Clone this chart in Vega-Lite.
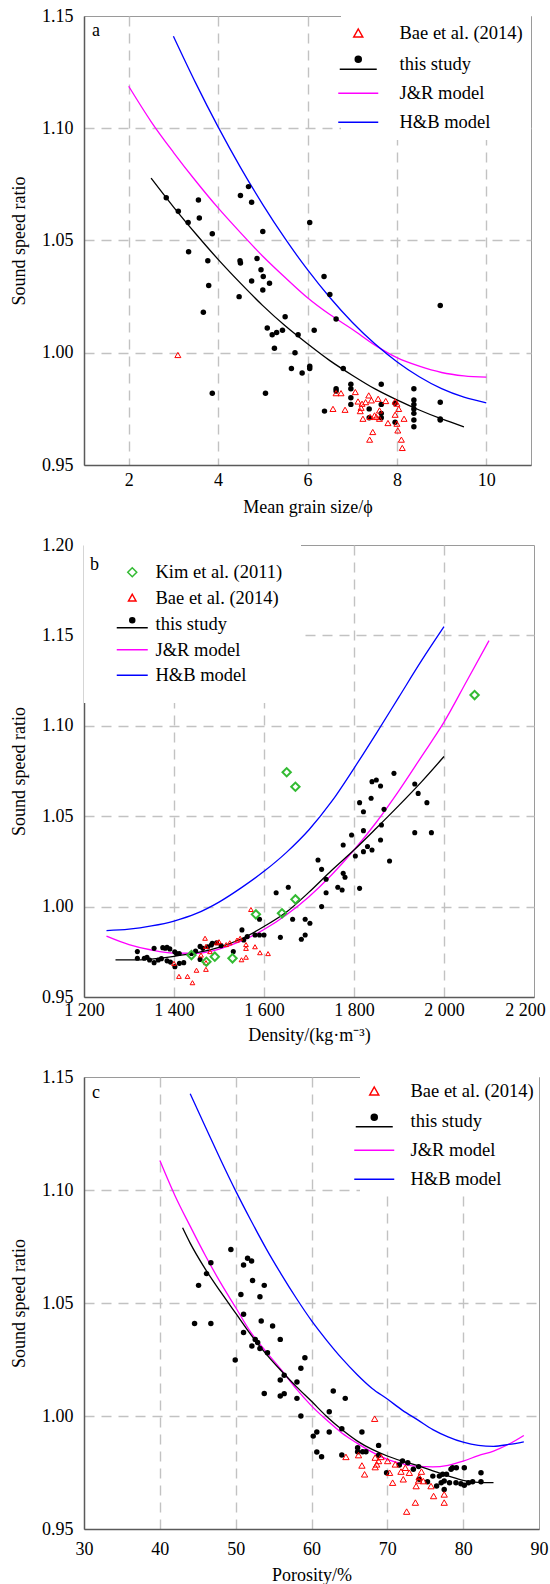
{
"$schema": "https://vega.github.io/schema/vega-lite/v6.json",
"padding": {"left": 10, "top": 6, "right": 0, "bottom": 0},
"bounds": "flush",
"spacing": 80,
"config": {
  "font": "Liberation Serif",
  "view": {"stroke": "#9a9a9a", "strokeWidth": 1},
  "axis": {"labelFont": "Liberation Serif", "labelFontSize": 18, "labelColor": "#000", "titleFont": "Liberation Serif", "titleFontSize": 18, "titleFontWeight": "normal", "titleColor": "#000", "ticks": false, "domainColor": "#5a5a5a", "domainWidth": 1.5, "gridColor": "#c2c2c2", "gridDash": [10, 7], "gridWidth": 1.4, "labelFlush": false, "labelOverlap": false},
  "axisY": {"labelPadding": 11, "titlePadding": 13, "format": ".2f"},
  "legend": {"labelFont": "Liberation Serif", "labelFontSize": 18.5, "labelColor": "#000", "fillColor": "white", "symbolSize": 100, "symbolStrokeWidth": 1.5, "symbolOpacity": 1, "labelLimit": 300},
  "title": {"font": "Liberation Serif", "fontSize": 18, "fontWeight": "normal", "color": "#000", "anchor": "start", "frame": "group"}
},
"resolve": {"scale": {"shape": "independent", "stroke": "independent", "fill": "independent"}, "legend": {"shape": "independent", "stroke": "independent", "fill": "independent"}},
"datasets": {
  "aS": [{"s":"Bae et al. (2014)"},{"s":"this study"},{"s":"J&R model"},{"s":"H&B model"}],
  "bS": [{"s":"Kim et al. (2011)"},{"s":"Bae et al. (2014)"},{"s":"this study"},{"s":"J&R model"},{"s":"H&B model"}],
  "aD": [{"x":2.84,"y":1.069},{"x":3.11,"y":1.063},{"x":3.33,"y":1.058},{"x":3.56,"y":1.068},{"x":3.58,"y":1.06},{"x":3.87,"y":1.053},{"x":3.34,"y":1.045},{"x":3.77,"y":1.041},{"x":3.79,"y":1.03},{"x":3.67,"y":1.018},{"x":3.87,"y":0.982},{"x":4.5,"y":1.07},{"x":4.68,"y":1.074},{"x":4.75,"y":1.067},{"x":5.0,"y":1.054},{"x":6.05,"y":1.058},{"x":4.49,"y":1.041},{"x":4.5,"y":1.04},{"x":4.87,"y":1.042},{"x":4.96,"y":1.037},{"x":5.01,"y":1.034},{"x":5.0,"y":1.028},{"x":4.75,"y":1.032},{"x":5.15,"y":1.031},{"x":4.47,"y":1.025},{"x":5.5,"y":1.016},{"x":5.1,"y":1.011},{"x":5.21,"y":1.008},{"x":5.31,"y":1.009},{"x":5.44,"y":1.01},{"x":5.26,"y":1.002},{"x":5.79,"y":1.008},{"x":6.15,"y":1.01},{"x":5.72,"y":1.0},{"x":5.64,"y":0.993},{"x":5.88,"y":0.991},{"x":6.05,"y":0.994},{"x":6.05,"y":0.993},{"x":5.06,"y":0.982},{"x":6.37,"y":1.034},{"x":6.5,"y":1.026},{"x":6.64,"y":1.015},{"x":6.8,"y":0.993},{"x":6.64,"y":0.984},{"x":6.64,"y":0.983},{"x":6.97,"y":0.986},{"x":6.97,"y":0.984},{"x":6.97,"y":0.98},{"x":6.97,"y":0.977},{"x":6.38,"y":0.974},{"x":7.65,"y":0.986},{"x":7.38,"y":0.975},{"x":7.38,"y":0.971},{"x":7.65,"y":0.977},{"x":7.65,"y":0.973},{"x":7.65,"y":0.971},{"x":7.96,"y":0.9775},{"x":7.96,"y":0.969},{"x":8.38,"y":0.984},{"x":8.38,"y":0.979},{"x":8.38,"y":0.977},{"x":8.38,"y":0.975},{"x":8.38,"y":0.973},{"x":8.38,"y":0.97},{"x":8.38,"y":0.967},{"x":8.97,"y":0.978},{"x":8.97,"y":0.9705},{"x":8.97,"y":0.97},{"x":8.97,"y":1.021}],
  "aB": [{"x":3.1,"y":0.999},{"x":6.64,"y":0.982},{"x":6.75,"y":0.982},{"x":7.07,"y":0.9825},{"x":6.57,"y":0.975},{"x":6.84,"y":0.9746},{"x":7.13,"y":0.9783},{"x":7.22,"y":0.9773},{"x":7.3,"y":0.978},{"x":7.37,"y":0.981},{"x":7.43,"y":0.9788},{"x":7.58,"y":0.9795},{"x":7.75,"y":0.9785},{"x":7.96,"y":0.9783},{"x":8.0,"y":0.9773},{"x":8.04,"y":0.975},{"x":7.2,"y":0.9755},{"x":7.18,"y":0.974},{"x":7.24,"y":0.9706},{"x":7.4,"y":0.9714},{"x":7.5,"y":0.9721},{"x":7.61,"y":0.9743},{"x":7.61,"y":0.9706},{"x":7.54,"y":0.9714},{"x":7.8,"y":0.9687},{"x":7.96,"y":0.9724},{"x":8.0,"y":0.9684},{"x":8.16,"y":0.9706},{"x":8.02,"y":0.9654},{"x":7.46,"y":0.9647},{"x":7.39,"y":0.9613},{"x":8.1,"y":0.9613},{"x":8.12,"y":0.9576}],
  "aL": [
    {"x":2.5,"y":1.0778,"s":"this study"},{"x":3,"y":1.065,"s":"this study"},{"x":3.5,"y":1.053,"s":"this study"},{"x":4,"y":1.0416,"s":"this study"},{"x":4.5,"y":1.031,"s":"this study"},{"x":5,"y":1.021,"s":"this study"},{"x":5.5,"y":1.012,"s":"this study"},{"x":6,"y":1.004,"s":"this study"},{"x":6.5,"y":0.9965,"s":"this study"},{"x":7,"y":0.99,"s":"this study"},{"x":7.5,"y":0.984,"s":"this study"},{"x":8,"y":0.979,"s":"this study"},{"x":8.5,"y":0.9745,"s":"this study"},{"x":9,"y":0.9705,"s":"this study"},{"x":9.5,"y":0.967,"s":"this study"},
    {"x":2,"y":1.1187,"s":"J&R model"},{"x":2.5,"y":1.103,"s":"J&R model"},{"x":3,"y":1.0893,"s":"J&R model"},{"x":3.5,"y":1.0765,"s":"J&R model"},{"x":4,"y":1.0645,"s":"J&R model"},{"x":4.5,"y":1.0535,"s":"J&R model"},{"x":5,"y":1.043,"s":"J&R model"},{"x":5.5,"y":1.0335,"s":"J&R model"},{"x":6,"y":1.0245,"s":"J&R model"},{"x":6.5,"y":1.017,"s":"J&R model"},{"x":7,"y":1.0105,"s":"J&R model"},{"x":7.5,"y":1.0035,"s":"J&R model"},{"x":8,"y":0.9978,"s":"J&R model"},{"x":8.5,"y":0.994,"s":"J&R model"},{"x":9,"y":0.9912,"s":"J&R model"},{"x":9.5,"y":0.9897,"s":"J&R model"},{"x":10,"y":0.9891,"s":"J&R model"},
    {"x":3,"y":1.141,"s":"H&B model"},{"x":3.5,"y":1.1201,"s":"H&B model"},{"x":4,"y":1.1006,"s":"H&B model"},{"x":4.5,"y":1.0826,"s":"H&B model"},{"x":5,"y":1.066,"s":"H&B model"},{"x":5.5,"y":1.0508,"s":"H&B model"},{"x":6,"y":1.037,"s":"H&B model"},{"x":6.5,"y":1.0246,"s":"H&B model"},{"x":7,"y":1.0136,"s":"H&B model"},{"x":7.5,"y":1.0041,"s":"H&B model"},{"x":8,"y":0.996,"s":"H&B model"},{"x":8.5,"y":0.9893,"s":"H&B model"},{"x":9,"y":0.984,"s":"H&B model"},{"x":9.5,"y":0.9802,"s":"H&B model"},{"x":10,"y":0.9777,"s":"H&B model"}],
  "bD": [{"x":1318.6,"y":0.9751},{"x":1318.6,"y":0.9714},{"x":1334,"y":0.9714},{"x":1345.7,"y":0.9705},{"x":1355.8,"y":0.9769},{"x":1355.8,"y":0.969},{"x":1365,"y":0.9705},{"x":1375,"y":0.9773},{"x":1380.6,"y":0.977},{"x":1384.5,"y":0.9775},{"x":1390.7,"y":0.9766},{"x":1384.5,"y":0.97},{"x":1392,"y":0.9693},{"x":1401.6,"y":0.975},{"x":1405.4,"y":0.9741},{"x":1402,"y":0.9668},{"x":1411.6,"y":0.9741},{"x":1421.7,"y":0.969},{"x":1438.8,"y":0.9741},{"x":1448,"y":0.9754},{"x":1458,"y":0.978},{"x":1464,"y":0.9769},{"x":1458,"y":0.9708},{"x":1485,"y":0.9797},{"x":1494.6,"y":0.98},{"x":1504.7,"y":0.9784},{"x":1531.8,"y":0.9751},{"x":1551,"y":0.9871},{"x":1555,"y":0.9815},{"x":1562.8,"y":0.9834},{"x":1580,"y":0.9843},{"x":1590,"y":0.9843},{"x":1600,"y":0.9843},{"x":1590,"y":0.993},{"x":1627,"y":1.0077},{"x":1636.4,"y":0.983},{"x":1654,"y":1.0107},{"x":1663.6,"y":0.993},{"x":1683,"y":0.9819},{"x":1691.5,"y":0.9843},{"x":1691.5,"y":0.993},{"x":1702,"y":0.9908},{"x":1720,"y":1.0258},{"x":1728,"y":1.0206},{"x":1728,"y":1.0},{"x":1738,"y":1.0151},{"x":1738,"y":1.0077},{"x":1764,"y":1.0107},{"x":1773.6,"y":1.0092},{"x":1776,"y":1.0184},{"x":1780,"y":1.0162},{"x":1776,"y":1.0341},{"x":1794.6,"y":1.0396},{"x":1803,"y":1.028},{"x":1812.4,"y":1.0575},{"x":1812.4,"y":1.0101},{"x":1821,"y":1.042},{"x":1821,"y":1.0525},{"x":1821,"y":1.0304},{"x":1830,"y":1.0332},{"x":1838,"y":1.0599},{"x":1840,"y":1.0313},{"x":1840,"y":1.0691},{"x":1849.6,"y":1.07},{"x":1859,"y":1.0667},{"x":1861,"y":1.0451},{"x":1859,"y":1.0368},{"x":1866.7,"y":1.0538},{"x":1879,"y":1.0252},{"x":1888.8,"y":1.0737},{"x":1935,"y":1.0678},{"x":1942.6,"y":1.0626},{"x":1935,"y":1.0409},{"x":1962,"y":1.0575},{"x":1972,"y":1.0409},{"x":1340,"y":0.972},{"x":1372,"y":0.9712},{"x":1412,"y":0.9686},{"x":1475,"y":0.9778},{"x":1483,"y":0.9788}],
  "bB": [{"x":1400,"y":0.9686},{"x":1411,"y":0.9614},{"x":1430,"y":0.9614},{"x":1441,"y":0.9579},{"x":1450,"y":0.9648},{"x":1471,"y":0.9653},{"x":1471,"y":0.969},{"x":1460,"y":0.9732},{"x":1469,"y":0.9825},{"x":1471,"y":0.978},{"x":1480,"y":0.9751},{"x":1495,"y":0.98},{"x":1500,"y":0.9806},{"x":1516,"y":0.979},{"x":1524,"y":0.98},{"x":1540,"y":0.9815},{"x":1547,"y":0.9825},{"x":1550,"y":0.9706},{"x":1560,"y":0.972},{"x":1560,"y":0.979},{"x":1560,"y":0.9769},{"x":1571,"y":0.9984},{"x":1580,"y":0.9778},{"x":1591,"y":0.9745},{"x":1609,"y":0.974}],
  "bK": [{"x":1438.8,"y":0.9732},{"x":1472,"y":0.9695},{"x":1490.7,"y":0.9723},{"x":1530,"y":0.9714},{"x":1582,"y":0.9957},{"x":1640,"y":0.9963},{"x":1669.8,"y":1.004},{"x":1650.4,"y":1.0743},{"x":1669.8,"y":1.0663},{"x":2068,"y":1.117}],
  "bL": [
    {"x":1270,"y":0.9705,"s":"this study"},{"x":1300,"y":0.9705,"s":"this study"},{"x":1350,"y":0.971,"s":"this study"},{"x":1400,"y":0.9725,"s":"this study"},{"x":1450,"y":0.9745,"s":"this study"},{"x":1500,"y":0.9775,"s":"this study"},{"x":1550,"y":0.9822,"s":"this study"},{"x":1600,"y":0.989,"s":"this study"},{"x":1650,"y":0.997,"s":"this study"},{"x":1700,"y":1.008,"s":"this study"},{"x":1750,"y":1.02,"s":"this study"},{"x":1800,"y":1.0313,"s":"this study"},{"x":1850,"y":1.0435,"s":"this study"},{"x":1900,"y":1.056,"s":"this study"},{"x":1950,"y":1.069,"s":"this study"},{"x":2000,"y":1.083,"s":"this study"},
    {"x":1250,"y":0.9837,"s":"J&R model"},{"x":1300,"y":0.979,"s":"J&R model"},{"x":1350,"y":0.976,"s":"J&R model"},{"x":1400,"y":0.9743,"s":"J&R model"},{"x":1450,"y":0.9742,"s":"J&R model"},{"x":1500,"y":0.9765,"s":"J&R model"},{"x":1550,"y":0.981,"s":"J&R model"},{"x":1600,"y":0.9873,"s":"J&R model"},{"x":1650,"y":0.9955,"s":"J&R model"},{"x":1700,"y":1.0055,"s":"J&R model"},{"x":1750,"y":1.0175,"s":"J&R model"},{"x":1800,"y":1.0313,"s":"J&R model"},{"x":1850,"y":1.0468,"s":"J&R model"},{"x":1900,"y":1.0642,"s":"J&R model"},{"x":1950,"y":1.083,"s":"J&R model"},{"x":2000,"y":1.102,"s":"J&R model"},{"x":2050,"y":1.1245,"s":"J&R model"},{"x":2100,"y":1.1471,"s":"J&R model"},
    {"x":1250,"y":0.9867,"s":"H&B model"},{"x":1300,"y":0.9875,"s":"H&B model"},{"x":1350,"y":0.9893,"s":"H&B model"},{"x":1400,"y":0.992,"s":"H&B model"},{"x":1450,"y":0.9962,"s":"H&B model"},{"x":1500,"y":1.0025,"s":"H&B model"},{"x":1550,"y":1.0105,"s":"H&B model"},{"x":1600,"y":1.0195,"s":"H&B model"},{"x":1650,"y":1.03,"s":"H&B model"},{"x":1700,"y":1.0425,"s":"H&B model"},{"x":1750,"y":1.058,"s":"H&B model"},{"x":1800,"y":1.0765,"s":"H&B model"},{"x":1850,"y":1.096,"s":"H&B model"},{"x":1900,"y":1.116,"s":"H&B model"},{"x":1950,"y":1.136,"s":"H&B model"},{"x":2000,"y":1.1548,"s":"H&B model"}],
  "cD": [{"x":49.37,"y":1.0737},{"x":51.57,"y":1.0698},{"x":52.1,"y":1.0686},{"x":51.04,"y":1.0668},{"x":46.73,"y":1.0678},{"x":46.16,"y":1.063},{"x":45.11,"y":1.0578},{"x":52.23,"y":1.06},{"x":53.77,"y":1.0578},{"x":50.69,"y":1.0538},{"x":53.2,"y":1.0528},{"x":44.58,"y":1.0409},{"x":46.73,"y":1.0409},{"x":51.04,"y":1.045},{"x":51.04,"y":1.0369},{"x":53.37,"y":1.042},{"x":54.87,"y":1.0398},{"x":55.88,"y":1.0339},{"x":52.58,"y":1.0339},{"x":52.9,"y":1.0325},{"x":52.14,"y":1.031},{"x":53.2,"y":1.0299},{"x":54.2,"y":1.028},{"x":49.94,"y":1.0248},{"x":59.13,"y":1.0258},{"x":58.6,"y":1.0211},{"x":55.88,"y":1.0159},{"x":56.4,"y":1.018},{"x":58.08,"y":1.015},{"x":53.77,"y":1.01},{"x":55.88,"y":1.0088},{"x":56.4,"y":1.0099},{"x":58.08,"y":1.0078},{"x":58.6,"y":1.0},{"x":62.87,"y":1.0111},{"x":64.45,"y":1.0078},{"x":62.34,"y":1.0019},{"x":64.0,"y":0.9944},{"x":60.23,"y":0.9911},{"x":60.7,"y":0.9929},{"x":62.34,"y":0.9929},{"x":66.65,"y":0.9929},{"x":60.7,"y":0.9841},{"x":61.33,"y":0.982},{"x":64.0,"y":0.9827},{"x":66.08,"y":0.986},{"x":66.08,"y":0.9842},{"x":66.74,"y":0.9842},{"x":67.18,"y":0.9842},{"x":68.85,"y":0.987},{"x":68.85,"y":0.9826},{"x":69.9,"y":0.9749},{"x":72.0,"y":0.9801},{"x":72.7,"y":0.9793},{"x":71.58,"y":0.9783},{"x":74.13,"y":0.9776},{"x":73.43,"y":0.9764},{"x":75.3,"y":0.9709},{"x":76.0,"y":0.9734},{"x":74.2,"y":0.972},{"x":76.5,"y":0.969},{"x":77.1,"y":0.9705},{"x":77.5,"y":0.9712},{"x":77.8,"y":0.9742},{"x":78.4,"y":0.9764},{"x":78.6,"y":0.9771},{"x":79.1,"y":0.9771},{"x":80.15,"y":0.9771},{"x":77.5,"y":0.9675},{"x":78.2,"y":0.9705},{"x":79.05,"y":0.9705},{"x":79.7,"y":0.97},{"x":80.15,"y":0.9694},{"x":80.7,"y":0.9705},{"x":81.25,"y":0.9709},{"x":82.35,"y":0.9749},{"x":82.35,"y":0.9709},{"x":76.86,"y":0.9734},{"x":77.3,"y":0.9742}],
  "cB": [{"x":68.33,"y":0.9988},{"x":64.54,"y":0.9819},{"x":66.2,"y":0.9827},{"x":66.65,"y":0.9781},{"x":67.0,"y":0.9742},{"x":68.4,"y":0.9816},{"x":68.6,"y":0.9786},{"x":68.4,"y":0.9774},{"x":68.85,"y":0.9801},{"x":69.16,"y":0.9819},{"x":70.04,"y":0.9801},{"x":70.3,"y":0.9749},{"x":70.7,"y":0.9705},{"x":71.05,"y":0.9786},{"x":71.8,"y":0.9754},{"x":72.1,"y":0.972},{"x":72.9,"y":0.9749},{"x":72.37,"y":0.9771},{"x":74.2,"y":0.973},{"x":74.13,"y":0.9715},{"x":73.8,"y":0.969},{"x":74.5,"y":0.9754},{"x":74.75,"y":0.9712},{"x":73.7,"y":0.9617},{"x":72.55,"y":0.9577},{"x":75.76,"y":0.969},{"x":76.1,"y":0.9646},{"x":77.5,"y":0.9653},{"x":77.5,"y":0.9617}],
  "cL": [
    {"x":43,"y":1.0833,"s":"this study"},{"x":44,"y":1.0765,"s":"this study"},{"x":46,"y":1.065,"s":"this study"},{"x":48,"y":1.055,"s":"this study"},{"x":50,"y":1.0455,"s":"this study"},{"x":52,"y":1.036,"s":"this study"},{"x":54,"y":1.0275,"s":"this study"},{"x":56,"y":1.02,"s":"this study"},{"x":58,"y":1.013,"s":"this study"},{"x":60,"y":1.0065,"s":"this study"},{"x":62,"y":0.9998,"s":"this study"},{"x":64,"y":0.994,"s":"this study"},{"x":66,"y":0.989,"s":"this study"},{"x":68,"y":0.9852,"s":"this study"},{"x":70,"y":0.9823,"s":"this study"},{"x":72,"y":0.98,"s":"this study"},{"x":74,"y":0.978,"s":"this study"},{"x":76,"y":0.9757,"s":"this study"},{"x":78,"y":0.9735,"s":"this study"},{"x":80,"y":0.9715,"s":"this study"},{"x":82,"y":0.9706,"s":"this study"},{"x":84,"y":0.9705,"s":"this study"},
    {"x":40,"y":1.1131,"s":"J&R model"},{"x":42,"y":1.0975,"s":"J&R model"},{"x":44,"y":1.084,"s":"J&R model"},{"x":46,"y":1.071,"s":"J&R model"},{"x":48,"y":1.059,"s":"J&R model"},{"x":50,"y":1.048,"s":"J&R model"},{"x":52,"y":1.037,"s":"J&R model"},{"x":54,"y":1.0285,"s":"J&R model"},{"x":56,"y":1.0205,"s":"J&R model"},{"x":58,"y":1.012,"s":"J&R model"},{"x":60,"y":1.0045,"s":"J&R model"},{"x":62,"y":0.9982,"s":"J&R model"},{"x":64,"y":0.9925,"s":"J&R model"},{"x":66,"y":0.988,"s":"J&R model"},{"x":68,"y":0.984,"s":"J&R model"},{"x":70,"y":0.9808,"s":"J&R model"},{"x":72,"y":0.9788,"s":"J&R model"},{"x":74,"y":0.9777,"s":"J&R model"},{"x":76,"y":0.9775,"s":"J&R model"},{"x":78,"y":0.9782,"s":"J&R model"},{"x":80,"y":0.98,"s":"J&R model"},{"x":82,"y":0.9825,"s":"J&R model"},{"x":84,"y":0.9845,"s":"J&R model"},{"x":86,"y":0.9875,"s":"J&R model"},{"x":88,"y":0.9914,"s":"J&R model"},
    {"x":44,"y":1.1426,"s":"H&B model"},{"x":46,"y":1.128,"s":"H&B model"},{"x":48,"y":1.1135,"s":"H&B model"},{"x":50,"y":1.0996,"s":"H&B model"},{"x":52,"y":1.0866,"s":"H&B model"},{"x":54,"y":1.0742,"s":"H&B model"},{"x":56,"y":1.0628,"s":"H&B model"},{"x":58,"y":1.0521,"s":"H&B model"},{"x":60,"y":1.0422,"s":"H&B model"},{"x":62,"y":1.0335,"s":"H&B model"},{"x":64,"y":1.0255,"s":"H&B model"},{"x":66,"y":1.0184,"s":"H&B model"},{"x":68,"y":1.0122,"s":"H&B model"},{"x":70,"y":1.0075,"s":"H&B model"},{"x":72,"y":1.0025,"s":"H&B model"},{"x":74,"y":0.9983,"s":"H&B model"},{"x":76,"y":0.994,"s":"H&B model"},{"x":78,"y":0.9908,"s":"H&B model"},{"x":80,"y":0.9884,"s":"H&B model"},{"x":82,"y":0.987,"s":"H&B model"},{"x":84,"y":0.9866,"s":"H&B model"},{"x":86,"y":0.9874,"s":"H&B model"},{"x":88,"y":0.9886,"s":"H&B model"}]
},
"vconcat": [
{
  "width": 447, "height": 449,
  "title": {"text": "a", "offset": -47, "dx": 8, "baseline": "alphabetic"},
  "encoding": {
    "x": {"field": "x", "type": "quantitative", "scale": {"domain": [1, 11], "nice": false, "zero": false}, "axis": {"values": [2, 4, 6, 8, 10], "title": "Mean grain size/ϕ", "labelPadding": 6, "titlePadding": 9}},
    "y": {"field": "y", "type": "quantitative", "scale": {"domain": [0.95, 1.15], "nice": false, "zero": false}, "axis": {"values": [0.95, 1, 1.05, 1.1, 1.15], "title": "Sound speed ratio", "gridOpacity": {"condition": {"test": "datum.value < 0.96 || datum.value > 1.14", "value": 0}, "value": 1}}}
  },
  "layer": [
    {"data": {"name": "aL"}, "transform": [{"filter": "datum.s == 'J&R model'"}], "mark": {"type": "line", "interpolate": "monotone", "strokeWidth": 1.3, "color": "#ff00ff"}},
    {"data": {"name": "aL"}, "transform": [{"filter": "datum.s == 'H&B model'"}], "mark": {"type": "line", "interpolate": "monotone", "strokeWidth": 1.3, "color": "#0000ff"}},
    {"data": {"name": "aL"}, "transform": [{"filter": "datum.s == 'this study'"}], "mark": {"type": "line", "interpolate": "monotone", "strokeWidth": 1.3, "color": "#000000"}},
    {"data": {"name": "aD"}, "mark": {"type": "circle", "color": "#000", "opacity": 1, "size": 30}},
    {"data": {"name": "aB"}, "mark": {"type": "point", "shape": "triangle-up", "filled": false, "color": "#ff0000", "opacity": 1, "size": 36, "strokeWidth": 1}},
    {"data": {"name": "aS"}, "mark": {"type": "point", "opacity": 0},
     "encoding": {
       "x": {"value": 0}, "y": {"value": 0},
       "shape": {"field": "s", "type": "nominal", "scale": {"domain": ["Bae et al. (2014)", "this study", "J&R model", "H&B model"], "range": ["M0,-0.85L0.9,0.75L-0.9,0.75Z", "M-3.7,1L3.7,1M-0.6,-1A0.6,0.6 0 1,0 0.6,-1A0.6,0.6 0 1,0 -0.6,-1Z", "M-4,0L4,0", "M-4,0L4,0"]}, "legend": {"orient": "top-right", "offset": 0, "padding": 8, "title": null, "symbolOffset": 0, "labelOffset": 32, "rowPadding": 10}},
       "stroke": {"field": "s", "type": "nominal", "scale": {"domain": ["Bae et al. (2014)", "this study", "J&R model", "H&B model"], "range": ["#ff0000", "#000000", "#ff00ff", "#0000ff"]}, "legend": {"orient": "top-right", "offset": 0, "padding": 8, "title": null, "symbolOffset": 0, "labelOffset": 32, "rowPadding": 10}},
       "fill": {"field": "s", "type": "nominal", "scale": {"domain": ["Bae et al. (2014)", "this study", "J&R model", "H&B model"], "range": ["transparent", "#000000", "transparent", "transparent"]}, "legend": {"orient": "top-right", "offset": 0, "padding": 8, "title": null, "symbolOffset": 0, "labelOffset": 32, "rowPadding": 10}}
     }}
  ]
},
{
  "width": 450, "height": 452,
  "title": {"text": "b", "offset": -52, "dx": 6, "baseline": "alphabetic"},
  "encoding": {
    "x": {"field": "x", "type": "quantitative", "scale": {"domain": [1200, 2200], "nice": false, "zero": false}, "axis": {"values": [1200, 1400, 1600, 1800, 2000, 2200], "title": "Density/(kg·m⁻³)", "labelPadding": 4, "titlePadding": 7, "labelExpr": "replace(format(datum.value, ','), ',', ' ')", "labelOffset": {"condition": {"test": "datum.value > 2100", "value": -9}, "value": 0}, "gridOpacity": {"condition": {"test": "datum.value < 1300 || datum.value > 2100", "value": 0}, "value": 1}}},
    "y": {"field": "y", "type": "quantitative", "scale": {"domain": [0.95, 1.2], "nice": false, "zero": false}, "axis": {"values": [0.95, 1, 1.05, 1.1, 1.15, 1.2], "title": "Sound speed ratio", "gridOpacity": {"condition": {"test": "datum.value < 0.96 || datum.value > 1.19", "value": 0}, "value": 1}}}
  },
  "layer": [
    {"data": {"name": "bL"}, "transform": [{"filter": "datum.s == 'J&R model'"}], "mark": {"type": "line", "interpolate": "monotone", "strokeWidth": 1.3, "color": "#ff00ff"}},
    {"data": {"name": "bL"}, "transform": [{"filter": "datum.s == 'H&B model'"}], "mark": {"type": "line", "interpolate": "monotone", "strokeWidth": 1.3, "color": "#0000ff"}},
    {"data": {"name": "bL"}, "transform": [{"filter": "datum.s == 'this study'"}], "mark": {"type": "line", "interpolate": "monotone", "strokeWidth": 1.3, "color": "#000000"}},
    {"data": {"name": "bD"}, "mark": {"type": "circle", "color": "#000", "opacity": 1, "size": 26}},
    {"data": {"name": "bB"}, "mark": {"type": "point", "shape": "triangle-up", "filled": false, "color": "#ff0000", "opacity": 1, "size": 22, "strokeWidth": 1}},
    {"data": {"name": "bK"}, "mark": {"type": "point", "shape": "diamond", "filled": false, "color": "#33bb33", "opacity": 1, "size": 70, "strokeWidth": 2}},
    {"data": {"name": "bS"}, "mark": {"type": "point", "opacity": 0},
     "encoding": {
       "x": {"value": 0}, "y": {"value": 0},
       "shape": {"field": "s", "type": "nominal", "scale": {"domain": ["Kim et al. (2011)", "Bae et al. (2014)", "this study", "J&R model", "H&B model"], "range": ["M0,-0.9L0.9,0L0,0.9L-0.9,0Z", "M0,-0.7L0.75,0.65L-0.75,0.65Z", "M-3.1,0.7L3.1,0.7M-0.5,-0.8A0.5,0.5 0 1,0 0.5,-0.8A0.5,0.5 0 1,0 -0.5,-0.8Z", "M-3.1,0L3.1,0", "M-3.1,0L3.1,0"]}, "legend": {"orient": "top-left", "offset": 0, "padding": 18, "title": null, "symbolOffset": 21, "labelOffset": 14, "rowPadding": 6.5}},
       "stroke": {"field": "s", "type": "nominal", "scale": {"domain": ["Kim et al. (2011)", "Bae et al. (2014)", "this study", "J&R model", "H&B model"], "range": ["#33bb33", "#ff0000", "#000000", "#ff00ff", "#0000ff"]}, "legend": {"orient": "top-left", "offset": 0, "padding": 18, "title": null, "symbolOffset": 21, "labelOffset": 14, "rowPadding": 6.5}},
       "fill": {"field": "s", "type": "nominal", "scale": {"domain": ["Kim et al. (2011)", "Bae et al. (2014)", "this study", "J&R model", "H&B model"], "range": ["transparent", "transparent", "#000000", "transparent", "transparent"]}, "legend": {"orient": "top-left", "offset": 0, "padding": 18, "title": null, "symbolOffset": 21, "labelOffset": 14, "rowPadding": 6.5}}
     }}
  ]
},
{
  "width": 455, "height": 452,
  "title": {"text": "c", "offset": -48, "dx": 8, "baseline": "alphabetic"},
  "encoding": {
    "x": {"field": "x", "type": "quantitative", "scale": {"domain": [30, 90], "nice": false, "zero": false}, "axis": {"values": [30, 40, 50, 60, 70, 80, 90], "title": "Porosity/%", "labelPadding": 11, "titlePadding": 8, "gridOpacity": {"condition": {"test": "datum.value < 35 || datum.value > 85", "value": 0}, "value": 1}}},
    "y": {"field": "y", "type": "quantitative", "scale": {"domain": [0.95, 1.15], "nice": false, "zero": false}, "axis": {"values": [0.95, 1, 1.05, 1.1, 1.15], "title": "Sound speed ratio", "gridOpacity": {"condition": {"test": "datum.value < 0.96 || datum.value > 1.14", "value": 0}, "value": 1}}}
  },
  "layer": [
    {"data": {"name": "cL"}, "transform": [{"filter": "datum.s == 'J&R model'"}], "mark": {"type": "line", "interpolate": "monotone", "strokeWidth": 1.3, "color": "#ff00ff"}},
    {"data": {"name": "cL"}, "transform": [{"filter": "datum.s == 'H&B model'"}], "mark": {"type": "line", "interpolate": "monotone", "strokeWidth": 1.3, "color": "#0000ff"}},
    {"data": {"name": "cL"}, "transform": [{"filter": "datum.s == 'this study'"}], "mark": {"type": "line", "interpolate": "monotone", "strokeWidth": 1.3, "color": "#000000"}},
    {"data": {"name": "cD"}, "mark": {"type": "circle", "color": "#000", "opacity": 1, "size": 30}},
    {"data": {"name": "cB"}, "mark": {"type": "point", "shape": "triangle-up", "filled": false, "color": "#ff0000", "opacity": 1, "size": 40, "strokeWidth": 1}},
    {"data": {"name": "aS"}, "mark": {"type": "point", "opacity": 0},
     "encoding": {
       "x": {"value": 0}, "y": {"value": 0},
       "shape": {"field": "s", "type": "nominal", "scale": {"domain": ["Bae et al. (2014)", "this study", "J&R model", "H&B model"], "range": ["M0,-0.85L0.9,0.75L-0.9,0.75Z", "M-3.7,1.1L3.7,1.1M-0.6,-0.8A0.6,0.6 0 1,0 0.6,-0.8A0.6,0.6 0 1,0 -0.6,-0.8Z", "M-4,0L4,0", "M-4,0L4,0"]}, "legend": {"orient": "top-right", "offset": 0, "padding": 5, "title": null, "symbolOffset": 0, "labelOffset": 27, "rowPadding": 10}},
       "stroke": {"field": "s", "type": "nominal", "scale": {"domain": ["Bae et al. (2014)", "this study", "J&R model", "H&B model"], "range": ["#ff0000", "#000000", "#ff00ff", "#0000ff"]}, "legend": {"orient": "top-right", "offset": 0, "padding": 5, "title": null, "symbolOffset": 0, "labelOffset": 27, "rowPadding": 10}},
       "fill": {"field": "s", "type": "nominal", "scale": {"domain": ["Bae et al. (2014)", "this study", "J&R model", "H&B model"], "range": ["transparent", "#000000", "transparent", "transparent"]}, "legend": {"orient": "top-right", "offset": 0, "padding": 5, "title": null, "symbolOffset": 0, "labelOffset": 27, "rowPadding": 10}}
     }}
  ]
}
]
}
